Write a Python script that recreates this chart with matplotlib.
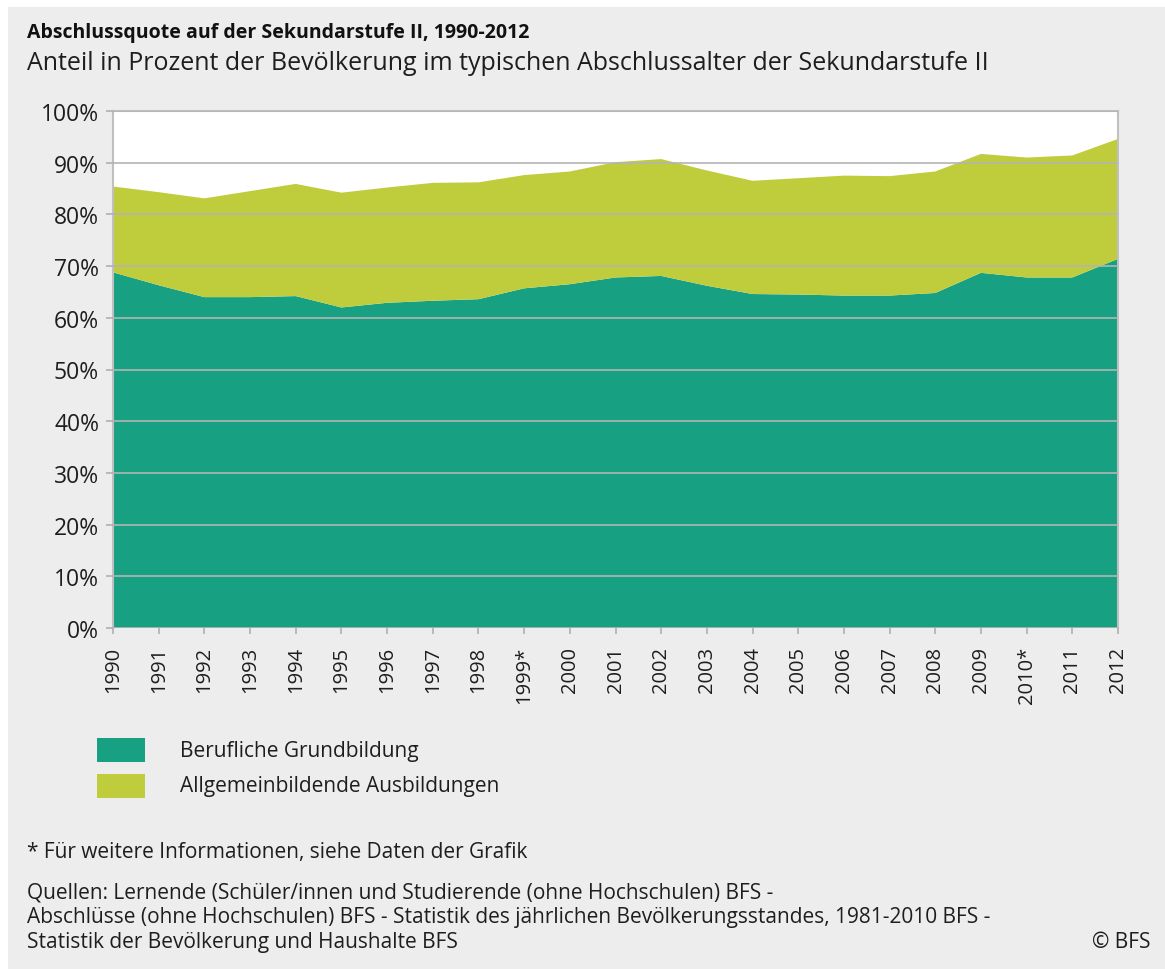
import numpy as np
import matplotlib.pyplot as plt
from matplotlib.patches import Rectangle

plt.rcParams['font.family'] = ['Open Sans', 'DejaVu Sans']

years = list(range(1990, 2013))
year_labels = [str(y) for y in years]
year_labels[years.index(1999)] = '1999*'
year_labels[years.index(2010)] = '2010*'

# Anteil in Prozent
berufliche = [68.8, 66.3, 64.0, 64.0, 64.2, 62.0, 62.9, 63.3, 63.6, 65.7, 66.5, 67.8,
              68.1, 66.2, 64.6, 64.5, 64.3, 64.3, 64.8, 68.7, 67.8, 67.8, 71.4]
total = [85.4, 84.3, 83.1, 84.5, 85.9, 84.2, 85.2, 86.1, 86.2, 87.6, 88.3, 90.1,
         90.7, 88.5, 86.5, 87.0, 87.5, 87.4, 88.3, 91.7, 91.0, 91.4, 94.6]
allgemein = [t - b for t, b in zip(total, berufliche)]

series_names = ['Berufliche Grundbildung', 'Allgemeinbildende Ausbildungen']
c_teal = '#18a083'
c_lime = '#bfcc3c'
bg = '#ededed'
txt = '#1e1e1e'

fig = plt.figure(figsize=(11.65, 9.7), dpi=100, facecolor='white')
fig.patches.append(Rectangle((8/1165, 0), 1 - 8/1165, 1 - 8/970, transform=fig.transFigure,
                             facecolor=bg, edgecolor='none', zorder=-10))

ax = fig.add_axes([113/1165, 1 - 629/970, (1118 - 113)/1165, (629 - 112)/970])
ax.stackplot(years, berufliche, allgemein, colors=[c_teal, c_lime], linewidth=0)
ax.set_xlim(1990, 2012)
ax.set_ylim(0, 100)
ax.set_facecolor('white')

ax.set_yticks(range(0, 101, 10))
ax.set_yticklabels([f'{v}%' for v in range(0, 101, 10)], fontsize=16.5, color=txt)
ax.set_xticks(years)
ax.set_xticklabels(year_labels, rotation=90, fontsize=14.5, color=txt)
ax.tick_params(axis='y', length=5, color='#b0b0b0', width=1.2, pad=5)
ax.tick_params(axis='x', length=4, color='#b0b0b0', width=1.2, pad=9)
ax.grid(axis='y', color='#b4b4b4', linewidth=1.2)
ax.set_axisbelow(False)
for s in ax.spines.values():
    s.set_color('#c0c0c0')
    s.set_linewidth(1.5)
ax.spines['bottom'].set_visible(False)

fig.text(27/1165, 1 - 33/970, 'Abschlussquote auf der Sekundarstufe II, 1990-2012',
         fontsize=14.0, fontweight='bold', va='center', color='#111111')
fig.text(27/1165, 1 - 63/970,
         'Anteil in Prozent der Bevölkerung im typischen Abschlussalter der Sekundarstufe II',
         fontsize=18, va='center', color=txt)

# legend
for i, (name, col) in enumerate(zip(series_names, [c_teal, c_lime])):
    yc = 751 + i * 36
    fig.patches.append(Rectangle((97/1165, 1 - (yc + 12)/970), 48/1165, 24/970,
                                 transform=fig.transFigure, facecolor=col, edgecolor='none'))
    fig.text(180/1165, 1 - yc/970, name, fontsize=15, va='center', color=txt)

fig.text(27/1165, 1 - 853/970, '* Für weitere Informationen, siehe Daten der Grafik',
         fontsize=15, va='center', color=txt)
sources = ['Quellen: Lernende (Schüler/innen und Studierende (ohne Hochschulen) BFS -',
           'Abschlüsse (ohne Hochschulen) BFS - Statistik des jährlichen Bevölkerungsstandes, 1981-2010 BFS -',
           'Statistik der Bevölkerung und Haushalte BFS']
for i, line in enumerate(sources):
    fig.text(27/1165, 1 - (893 + i * 25)/970, line, fontsize=15, va='center', color=txt)
fig.text(1150/1165, 1 - 943/970, '© BFS', fontsize=15, va='center', ha='right', color=txt)

fig.savefig('out.png', dpi=100, facecolor=fig.get_facecolor())
